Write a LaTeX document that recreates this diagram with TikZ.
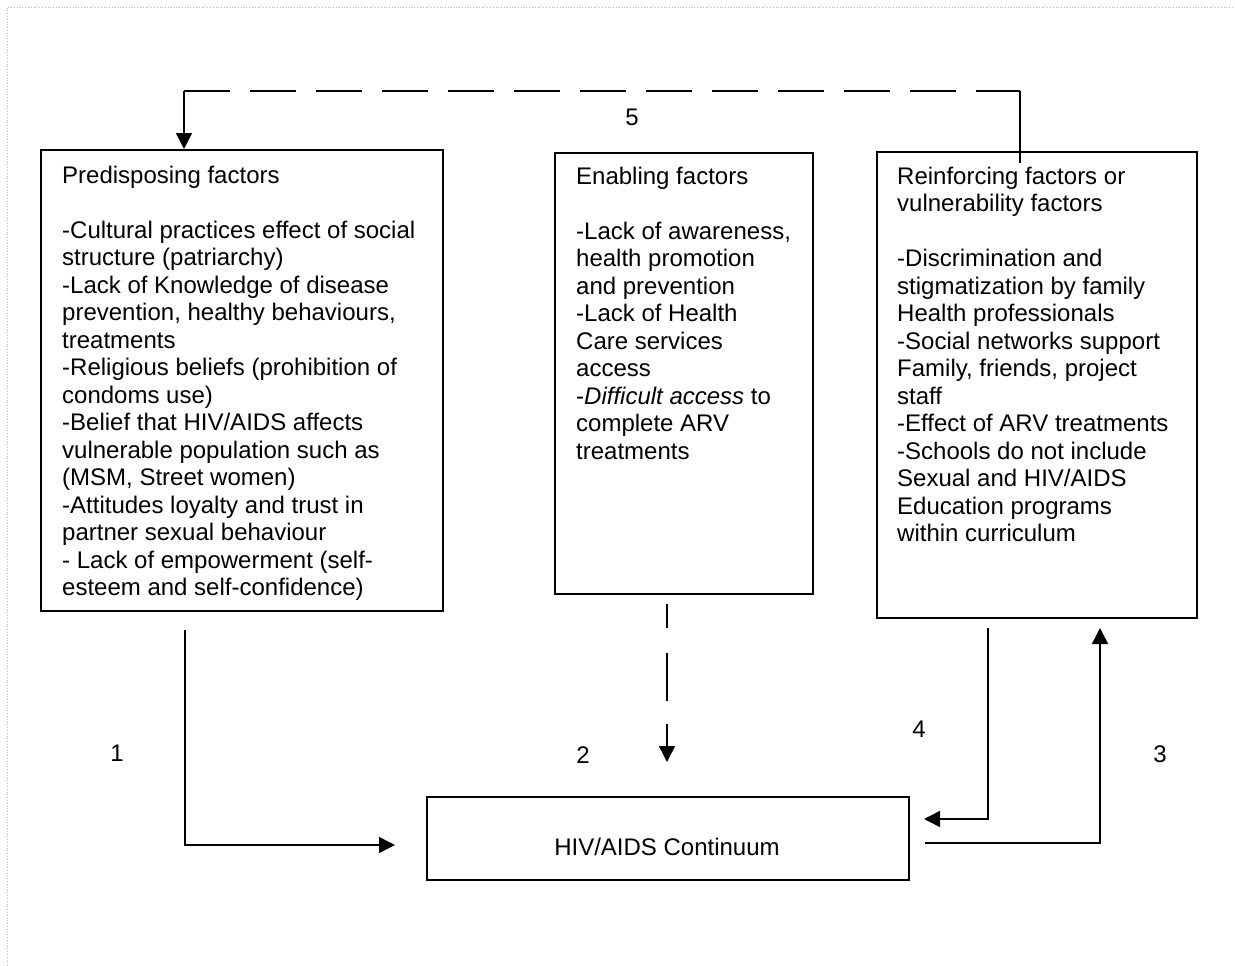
\documentclass[tikz,border=0pt]{standalone}
\usepackage{fontspec}
\setmainfont{Liberation Sans}
\usetikzlibrary{arrows.meta,calc}
\begin{document}
\begin{tikzpicture}[x=1pt,y=-1pt,
  box/.style={draw,line width=1.5pt,inner sep=0pt,anchor=north west},
  txt/.style={anchor=base west,align=left,inner sep=0pt,font=\fontsize{24}{27.5}\selectfont},
  num/.style={anchor=base,inner sep=0pt,font=\fontsize{24}{27.5}\selectfont},
  ln/.style={line width=1.5pt},
  conn/.style={line width=1.5pt,-{Triangle[length=16pt,width=16pt]}}]
\useasboundingbox (0,0) rectangle (1235,966);
\draw[gray!55,dotted,line width=0.8pt] (7,966) -- (7,7) -- (1235,7);

% boxes
\node[box,minimum width=402pt,minimum height=461pt] (pre) at (40,149) {};
\node[box,minimum width=258pt,minimum height=441pt] (ena) at (554,152) {};
\node[box,minimum width=320pt,minimum height=466pt] (rei) at (876,151) {};
\node[box,minimum width=482pt,minimum height=83pt] (cont) at (426,796) {};

% texts (anchored at the baseline of their last line)
\node[txt] (pret) at (62,595.5) {Predisposing factors\\[27.5pt]-Cultural practices effect of social\\structure (patriarchy)\\-Lack of Knowledge of disease\\prevention, healthy behaviours,\\treatments\\-Religious beliefs (prohibition of\\condoms use)\\-Belief that HIV/AIDS affects\\vulnerable population such as\\(MSM, Street women)\\-Attitudes loyalty and trust in\\partner sexual behaviour\\- Lack of empowerment (self-\\esteem and self-confidence)};
\node[txt] (enat) at (576,459) {Enabling factors\\[27.5pt]-Lack of awareness,\\health promotion\\and prevention\\-Lack of Health\\Care services\\access\\-\textit{Difficult access} to\\complete ARV\\treatments};
\node[txt] (reit) at (897,541.5) {Reinforcing factors or\\vulnerability factors\\[27.5pt]-Discrimination and\\stigmatization by family\\Health professionals\\-Social networks support\\Family, friends, project\\staff\\-Effect of ARV treatments\\-Schools do not include\\Sexual and HIV/AIDS\\Education programs\\within curriculum};
\node[num] (contt) at (667,855) {HIV/AIDS Continuum};

% numbers
\node[num] (n1) at (117,761) {1};
\node[num] (n2) at (583,763) {2};
\node[num] (n3) at (1160,762) {3};
\node[num] (n4) at (919,737) {4};
\node[num] (n5) at (632,125) {5};

% connector coordinates
\coordinate (a1s) at (185,630);
\coordinate (a1e) at (395,845);
\coordinate (a2s) at (667,604);
\coordinate (a2e) at (667,762);
\coordinate (a4s) at (988,628);
\coordinate (a4e) at (924,819);
\coordinate (a3s) at (925,843);
\coordinate (a3e) at (1100,628);
\coordinate (r5s) at (1020,163);
\coordinate (r5c) at (1020,91);
\coordinate (l5c) at (184,91);

% connectors
\draw[conn] (a1s) |- (a1e);
\draw[conn,dash pattern=on 24pt off 25pt on 48pt off 23pt on 80pt] (a2s) -- (a2e);
\draw[conn] (a4s) |- (a4e);
\draw[conn] (a3s) -| (a3e);
\draw[ln] (r5s) -- (r5c);
\draw[ln,dash pattern=on 46pt off 20pt] (l5c) -- (r5c);
\draw[conn] (l5c) -- (l5c |- pre.north);
\end{tikzpicture}
\end{document}
